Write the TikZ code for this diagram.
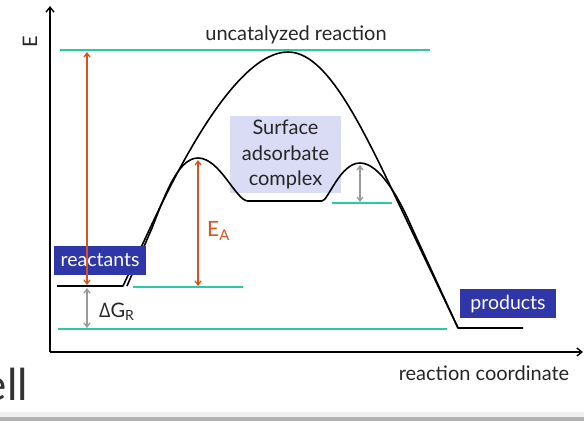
\documentclass[tikz,border=0pt]{standalone}
\usepackage{fontspec}
\setmainfont{Lato}
\newfontfamily\greekfont{Open Sans}
\usetikzlibrary{arrows.meta}
\definecolor{teal2}{HTML}{2CC9A5}
\definecolor{redarr}{HTML}{D4541E}
\definecolor{boxblue}{HTML}{2E36A8}
\definecolor{lav}{HTML}{D9DCF4}
\definecolor{garr}{HTML}{9A9A9A}
\begin{document}
\begin{tikzpicture}[x=1pt,y=-1pt,
  level/.style={draw=teal2,line width=1.6pt},
  curve/.style={draw=black,line width=1.6pt,line join=round},
  axis/.style={draw=black,line width=1.4pt,-{Straight Barb[length=5pt,width=8pt]}},
  redarrow/.style={draw=redarr,line width=1.3pt,{Straight Barb[length=4pt,width=6pt]}-{Straight Barb[length=4pt,width=6pt]}},
  grayarrow/.style={draw=garr,line width=1.3pt,{Straight Barb[length=4pt,width=6pt]}-{Straight Barb[length=4pt,width=6pt]}},
  bluebox/.style={fill=boxblue,text=white,font=\fontsize{19.5}{20}\selectfont,inner sep=0pt,minimum width=92pt,minimum height=29pt},
  lbl/.style={text=black!85,inner sep=0pt},
  big/.style={font=\fontsize{20}{22}\selectfont}]
\useasboundingbox (0,0) rectangle (584,421);
% bottom gray bar
\fill[gray!12] (0,412) rectangle (584,417);
\fill[gray!60] (0,417) rectangle (584,421);
% big partial text
\node[lbl,anchor=base east,font=\fontsize{44}{48}\selectfont,text=black!80] (ell) at (28,400) {ell};
% axes
\coordinate (O) at (50,352);
\coordinate (ytop) at (50,6);
\coordinate (xend) at (583,352);
\draw[axis] (O) -- (ytop);
\draw[axis] (O) -- (xend);
\node[lbl,rotate=90,big] (E) at (30,42) {E};
\node[lbl,big] (xl) at (484,373) {reaction coordinate};
% teal levels
\coordinate (t1a) at (60,50); \coordinate (t1b) at (430,50);
\coordinate (t2a) at (133,287); \coordinate (t2b) at (243,287);
\coordinate (t3a) at (332,203); \coordinate (t3b) at (392,203);
\coordinate (t4a) at (58,329); \coordinate (t4b) at (447,329);
\draw[level] (t1a) -- (t1b);
\draw[level] (t2a) -- (t2b);
\draw[level] (t3a) -- (t3b);
\draw[level] (t4a) -- (t4b);
\node[lbl,big] (unc) at (296,35) {uncatalyzed reaction};
% surface complex box
\node[fill=lav,minimum width=111pt,minimum height=77pt,inner sep=0pt,align=center,
  font=\fontsize{20}{25.5}\selectfont,text=black!85] (surf) at (285.5,154.5) {Surface\\adsorbate\\complex};
% reactant / product levels
\coordinate (r1) at (57,286); \coordinate (r2) at (123,286);
\coordinate (p1) at (458,328); \coordinate (p2) at (523,328);
\draw[curve] (r1) -- (r2) -- (152,224) .. controls (175,175) and (235,52) .. (288,52)
  .. controls (325,52) and (358,118) .. (397,200) -- (p1) -- (p2);
\draw[curve] (127,286) -- (152,228) .. controls (165,195) and (178,158) .. (198,158)
  .. controls (220,158) and (236,201) .. (248,201) -- (322,201)
  .. controls (328,201) and (340,163) .. (360,163)
  .. controls (380,163) and (400,200) .. (412,228) -- (p1);
% labels boxes
\node[bluebox] (react) at (100,260.5) {reactants};
\node[bluebox,minimum width=96pt] (prod) at (508,303.5) {products};
% arrows
\coordinate (a1t) at (87,52); \coordinate (a1b) at (87,285);
\draw[redarrow] (a1b) -- (a1t);
\coordinate (a2t) at (198,160); \coordinate (a2b) at (198,286);
\draw[redarrow] (a2b) -- (a2t);
\node[text=redarr,inner sep=0pt,anchor=west,font=\fontsize{21}{22}\selectfont] (EA) at (207,231) {E\textsubscript{A}};
\coordinate (g1t) at (87,288); \coordinate (g1b) at (87,328);
\draw[grayarrow] (g1b) -- (g1t);
\node[lbl,anchor=west,font=\fontsize{20}{22}\selectfont] (dG) at (99,312) {{\greekfont Δ}G\textsubscript{R}};
\coordinate (g2t) at (360,165); \coordinate (g2b) at (360,202);
\draw[grayarrow] (g2b) -- (g2t);
\end{tikzpicture}
\end{document}
